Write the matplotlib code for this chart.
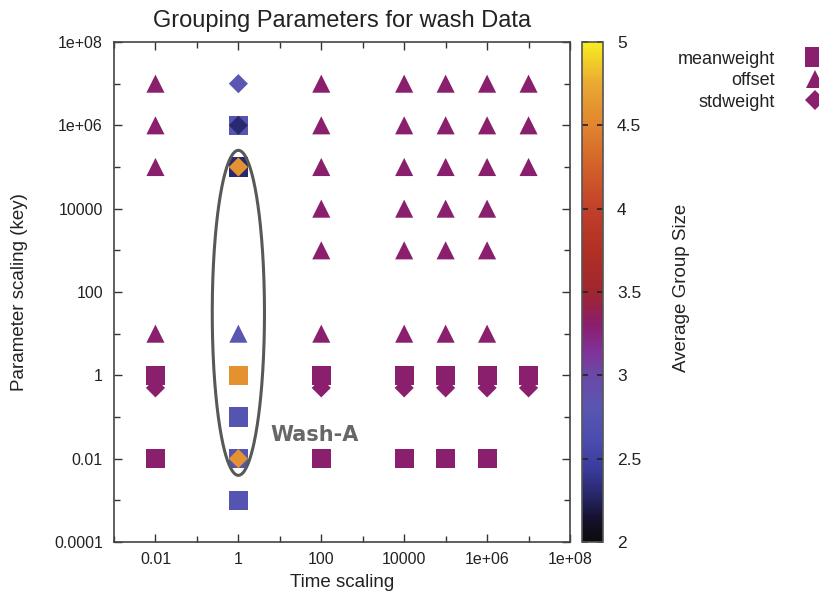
import numpy as np
import matplotlib
matplotlib.use("Agg")
import matplotlib.pyplot as plt
from matplotlib.colors import LinearSegmentedColormap, Normalize
from matplotlib.lines import Line2D
from matplotlib.ticker import FixedLocator, NullFormatter

plt.rcParams['font.family'] = ['Liberation Sans', 'DejaVu Sans']

# ---------------- data ----------------
meanweight_x = [0.01, 0.01, 1, 1, 1, 1, 1, 1, 100, 100, 1e4, 1e4, 1e5, 1e5, 1e6, 1e6, 1e7]
meanweight_y = [1, 0.01, 1e6, 1e5, 1, 0.1, 0.01, 0.001, 1, 0.01, 1, 0.01, 1, 0.01, 1, 0.01, 1]
meanweight_c = [3.3, 3.3, 2.75, 2.3, 4.6, 2.75, 2.75, 2.75, 3.3, 3.3, 3.3, 3.3, 3.3, 3.3, 3.3, 3.3, 3.3]

offset_x = [0.01, 0.01, 0.01, 0.01,
            1,
            100, 100, 100, 100, 100, 100,
            1e4, 1e4, 1e4, 1e4, 1e4, 1e4,
            1e5, 1e5, 1e5, 1e5, 1e5, 1e5,
            1e6, 1e6, 1e6, 1e6, 1e6, 1e6,
            1e7, 1e7, 1e7]
offset_y = [1e7, 1e6, 1e5, 10,
            10,
            1e7, 1e6, 1e5, 1e4, 1e3, 10,
            1e7, 1e6, 1e5, 1e4, 1e3, 10,
            1e7, 1e6, 1e5, 1e4, 1e3, 10,
            1e7, 1e6, 1e5, 1e4, 1e3, 10,
            1e7, 1e6, 1e5]
offset_c = [3.3, 3.3, 3.3, 3.3,
            2.8,
            3.3, 3.3, 3.3, 3.3, 3.3, 3.3,
            3.3, 3.3, 3.3, 3.3, 3.3, 3.3,
            3.3, 3.3, 3.3, 3.3, 3.3, 3.3,
            3.3, 3.3, 3.3, 3.3, 3.3, 3.3,
            3.3, 3.3, 3.3]

stdweight_x = [0.01, 1, 1, 1, 1, 100, 1e4, 1e5, 1e6, 1e7]
stdweight_y = [0.5, 1e7, 1e6, 1e5, 0.01, 0.5, 0.5, 0.5, 0.5, 0.5]
stdweight_c = [3.3, 2.8, 2.3, 4.6, 4.6, 3.3, 3.3, 3.3, 3.3, 3.3]

xticks_major = [0.01, 1, 100, 1e4, 1e6, 1e8]
xtick_labels = ["0.01", "1", "100", "10000", "1e+06", "1e+08"]
yticks_major = [1e-4, 0.01, 1, 100, 1e4, 1e6, 1e8]
ytick_labels = ["0.0001", "0.01", "1", "100", "10000", "1e+06", "1e+08"]
cbar_ticks = [2, 2.5, 3, 3.5, 4, 4.5, 5]
cbar_labels = ["2", "2.5", "3", "3.5", "4", "4.5", "5"]

# ---------------- colormap ----------------
anchors = [(2.0, '#0c0c0c'), (2.15, '#161232'), (2.3, '#2a2a72'), (2.45, '#3b3d9e'),
           (2.6, '#4a4cae'), (2.8, '#5a56b2'), (3.0, '#6a4aa6'), (3.15, '#82309a'),
           (3.3, '#8a1e6c'), (3.5, '#a02630'), (3.75, '#b03024'), (4.0, '#c0402a'),
           (4.25, '#d2602a'), (4.5, '#e0842e'), (4.75, '#eaa832'), (5.0, '#f8ec20')]
cmap = LinearSegmentedColormap.from_list(
    'gp', [((v - 2.0) / 3.0, c) for v, c in anchors])
norm = Normalize(vmin=2, vmax=5)

# ---------------- figure ----------------
fig = plt.figure(figsize=(8.19, 5.96), dpi=100)
ax = fig.add_axes([114/819, 1 - 542/596, 456/819, 500/596])
cax = fig.add_axes([582/819, 1 - 542/596, 21/819, 500/596])

ax.set_xscale('log')
ax.set_yscale('log')
ax.set_xlim(1e-3, 1e8)
ax.set_ylim(1e-4, 1e8)

ax.scatter(meanweight_x, meanweight_y, c=meanweight_c, cmap=cmap, norm=norm,
           marker='s', s=190, linewidths=0, zorder=3)
ax.scatter(offset_x, offset_y, c=offset_c, cmap=cmap, norm=norm,
           marker='^', s=170, linewidths=0, zorder=4)
sc = ax.scatter(stdweight_x, stdweight_y, c=stdweight_c, cmap=cmap, norm=norm,
                marker='D', s=95, linewidths=0, zorder=5)

# ellipse "Wash-A" (log-space ellipse)
t = np.linspace(0, 2 * np.pi, 400)
ell_cx, ell_cy, ell_a, ell_b = 0.0, 1.5, 0.63, 3.9
ax.plot(10 ** (ell_cx + ell_a * np.cos(t)), 10 ** (ell_cy + ell_b * np.sin(t)),
        color='#555a55', lw=2.2, zorder=6, solid_capstyle='butt', solid_joinstyle='round')
ax.text(6.0, 0.036, "Wash-A", fontsize=15, fontweight='bold', color='#666866',
        family='DejaVu Sans', ha='left', va='center', zorder=7)

# ticks
ax.xaxis.set_major_locator(FixedLocator(xticks_major))
ax.set_xticklabels(xtick_labels)
ax.xaxis.set_minor_locator(FixedLocator([1e-3, 0.1, 10, 1e3, 1e5, 1e7]))
ax.xaxis.set_minor_formatter(NullFormatter())
ax.yaxis.set_major_locator(FixedLocator(yticks_major))
ax.set_yticklabels(ytick_labels)
ax.yaxis.set_minor_locator(FixedLocator([1e-3, 0.1, 10, 1e3, 1e5, 1e7]))
ax.yaxis.set_minor_formatter(NullFormatter())
ax.tick_params(which='both', direction='in', top=True, right=True, color='#333333',
               labelsize=11.5, labelcolor='#222222')
ax.tick_params(which='major', length=6, width=1)
ax.tick_params(axis='x', which='major', pad=7)
ax.tick_params(axis='y', which='major', pad=8)
ax.tick_params(which='minor', length=4, width=1)
for sp in ax.spines.values():
    sp.set_color('#444444')
    sp.set_linewidth(1.2)

ax.set_xlabel("Time scaling", fontsize=13.5, color='#222222', labelpad=5)
ax.set_ylabel("Parameter scaling (key)", fontsize=13.5, color='#222222', labelpad=19)
ax.set_title("Grouping Parameters for wash Data", fontsize=17, color='#222222', pad=11)

# colorbar
cb = fig.colorbar(sc, cax=cax)
cb.set_ticks(cbar_ticks)
cb.set_ticklabels(cbar_labels)
cax.tick_params(direction='in', left=True, right=True, length=4, width=1.2,
                color='#222222', labelsize=12.5, labelcolor='#222222', pad=10)
cb.outline.set_edgecolor('#555555')
cb.outline.set_linewidth(1.2)
fig.text(681/819, 1 - 288/596, "Average Group Size", rotation=90, fontsize=13.5,
         ha='center', va='center', color='#222222')

# legend
mcol = cmap(norm(3.3))
handles = [Line2D([], [], ls='none', marker='s', markersize=14, color=mcol, mew=0),
           Line2D([], [], ls='none', marker='^', markersize=13, color=mcol, mew=0),
           Line2D([], [], ls='none', marker='D', markersize=10, color=mcol, mew=0)]
fig.legend(handles, ["meanweight", "offset", "stdweight"], loc='upper right',
           bbox_to_anchor=(1.004, 0.915), frameon=False, markerfirst=False,
           handlelength=0.8, handletextpad=1.8, labelspacing=0.25, fontsize=13,
           borderpad=0, borderaxespad=0, labelcolor='#222222')

fig.savefig("out.png", dpi=100)
